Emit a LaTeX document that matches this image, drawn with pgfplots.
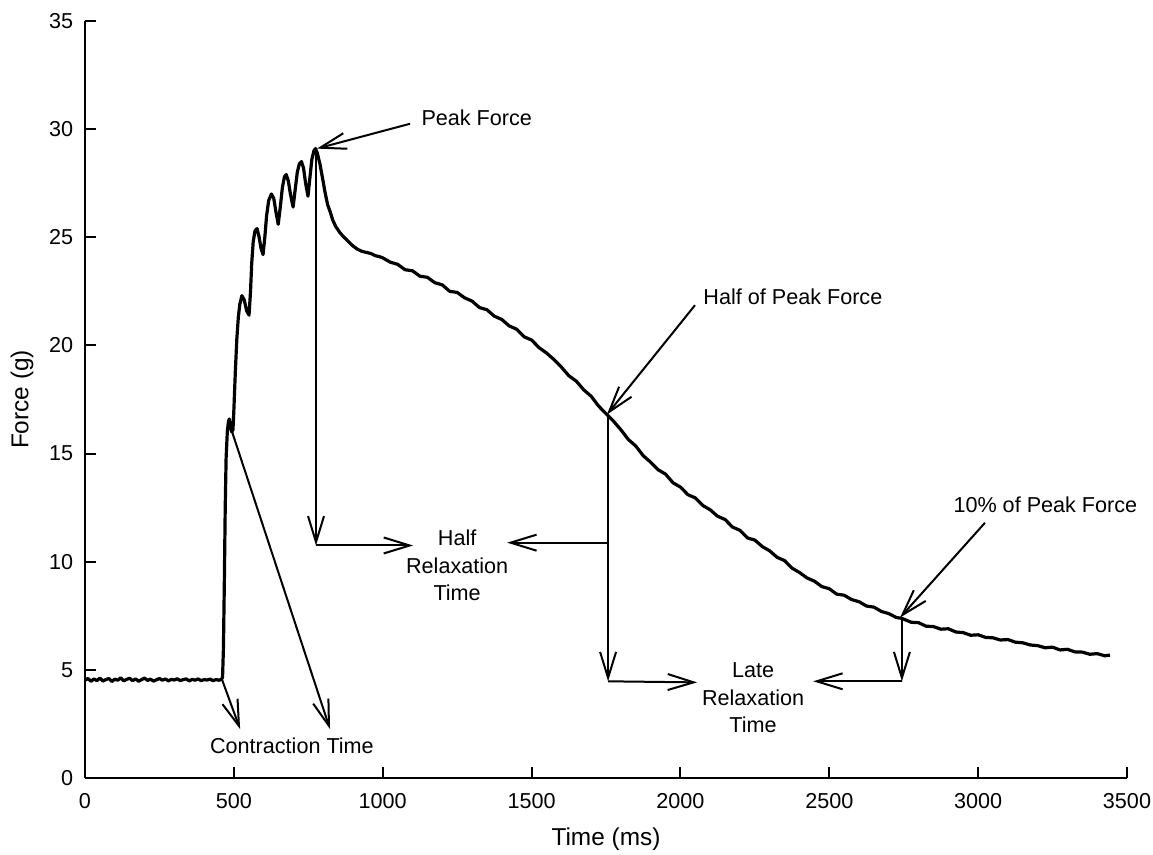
\documentclass[border=0pt]{standalone}
\usepackage{fontspec}
\setmainfont{Liberation Sans}
\usepackage{pgfplots}
\pgfplotsset{compat=1.18}
\usetikzlibrary{arrows.meta}
\tikzset{
  arr/.style={line width=1pt, -{Straight Barb[length=13pt,width=8pt,line width=1pt]}},
  lab/.style={font=\fontsize{10.8}{13.75}\selectfont, inner sep=0pt},
}
\begin{document}
\begin{tikzpicture}
\useasboundingbox (-42.5pt,-38.5pt) rectangle (534pt,389pt);
\begin{axis}[
  scale only axis,
  width=521pt, height=378.5pt,
  xmin=0, xmax=3500, ymin=0, ymax=35,
  axis x line*=bottom, axis y line*=left,
  axis line style={-, line width=1pt},
  xtick={0,500,...,3500}, ytick={0,5,...,35},
  tick align=inside,
  major tick length=5.5pt,
  tick style={line width=1pt, black},
  /pgf/number format/assume math mode=true,
  /pgf/number format/1000 sep={},
  ticklabel style={font=\fontsize{10.8}{13}\selectfont},
  xticklabel style={yshift=-4.4pt},
  yticklabel style={xshift=-2.4pt},
  xlabel={Time (ms)}, ylabel={Force (g)},
  label style={font=\fontsize{12.2}{14}\selectfont},
  xlabel style={at={(axis description cs:0.5,-0.0804)}, anchor=center},
  ylabel style={at={(axis description cs:-0.0605,0.5)}, anchor=center},
  clip=false,
]
\addplot[black, line width=1.6pt, line join=round] coordinates {
(0,4.52) (10,4.60) (20,4.47) (30,4.58) (40,4.50) (50,4.62) (60,4.48) (70,4.55) (80,4.60) (90,4.46)
(100,4.57) (110,4.52) (120,4.63) (130,4.49) (140,4.56) (150,4.61) (160,4.50) (170,4.58) (180,4.47) (190,4.55)
(200,4.62) (210,4.51) (220,4.57) (230,4.48) (240,4.54) (250,4.60) (260,4.52) (270,4.58) (280,4.49) (290,4.56)
(300,4.53) (310,4.59) (320,4.50) (330,4.55) (340,4.58) (350,4.49) (360,4.56) (370,4.52) (380,4.58) (390,4.50)
(400,4.55) (410,4.53) (420,4.57) (430,4.50) (440,4.55) (450,4.52) (458,4.56) (462,4.65)
(465,6.0) (468,9.0) (471,12.5) (474,14.8) (478,16.0) (482,16.5) (485,16.6) (489,16.2) (493,16.0) (497,16.1)
(500,17.0) (505,18.8) (510,20.3) (515,21.3) (520,21.9) (527,22.3) (535,22.1) (543,21.6) (551,21.4)
(556,22.5) (560,23.8) (565,24.8) (571,25.3) (578,25.4) (585,25.0) (591,24.5) (598,24.2)
(604,25.0) (610,26.0) (617,26.7) (626,27.0) (634,26.8) (641,26.2) (649,25.6)
(656,26.4) (663,27.3) (670,27.8) (676,27.9) (683,27.6) (690,27.0) (699,26.4)
(706,27.2) (713,28.0) (720,28.4) (727,28.5) (734,28.2) (741,27.5) (749,26.9)
(755,27.7) (762,28.6) (769,29.0) (774,29.1) (780,28.9) (789,28.4) (797,27.8) (806,27.1) (815,26.5)
(823,26.2) (832,25.8) (842,25.5) (857,25.2) (870,25.0) (885,24.8) (900,24.6) (915,24.45) (930,24.35)
(945,24.3) (960,24.25) (975,24.15) (990,24.1)
(1000,24.05) (1025,23.85) (1050,23.75) (1075,23.5) (1100,23.45) (1125,23.2) (1150,23.15) (1175,22.9)
(1200,22.8) (1225,22.5) (1250,22.45) (1275,22.2) (1300,22.05) (1325,21.75) (1350,21.65) (1375,21.35)
(1400,21.2) (1425,20.9) (1450,20.75) (1475,20.4) (1500,20.25) (1525,19.9) (1550,19.65) (1575,19.35)
(1600,19.0) (1625,18.6) (1650,18.35) (1675,17.95) (1700,17.65) (1725,17.2) (1753,16.8) (1775,16.5)
(1800,16.1) (1825,15.65) (1850,15.35) (1875,14.9) (1900,14.6) (1925,14.25) (1950,14.05) (1975,13.65)
(2000,13.45) (2025,13.1) (2050,12.95) (2075,12.6) (2100,12.4) (2125,12.1) (2150,11.95) (2175,11.6)
(2200,11.45) (2225,11.1) (2250,11.0) (2275,10.7) (2300,10.5) (2325,10.2) (2350,10.05) (2375,9.7)
(2400,9.5) (2425,9.25) (2450,9.1) (2475,8.85) (2500,8.75) (2525,8.5) (2550,8.45) (2575,8.25)
(2600,8.15) (2625,7.95) (2650,7.9) (2675,7.7) (2700,7.6) (2725,7.42) (2744,7.38) (2775,7.2)
(2800,7.18) (2825,7.02) (2850,7.0) (2875,6.88) (2900,6.9) (2925,6.75) (2950,6.72) (2975,6.6)
(3000,6.62) (3025,6.5) (3050,6.48) (3075,6.38) (3100,6.4) (3125,6.28) (3150,6.25) (3175,6.15)
(3200,6.12) (3225,6.02) (3250,6.05) (3275,5.92) (3300,5.95) (3325,5.83) (3350,5.82) (3375,5.72)
(3400,5.75) (3425,5.65) (3443,5.68)
};
% Peak force
\draw[arr] (1092,30.25) -- (779,29.1);
\node[lab, anchor=west] at (1129,30.53) {Peak Force};
% Half relaxation
\draw[arr] (776,29.0) -- (776,10.75);
\draw[arr] (776,10.75) -- (1102,10.75);
\draw[arr] (1757,10.88) -- (1418,10.88);
\node[lab, anchor=north, align=center] at (1250,11.48) {Half\\Relaxation\\Time};
% Half of peak force
\draw[arr] (2049,21.86) -- (1753,16.8);
\node[lab, anchor=west] at (2076,22.23) {Half of Peak Force};
\draw[arr] (1757,16.8) -- (1757,4.47);
\draw[arr] (1757,4.47) -- (2056,4.42);
% Late relaxation
\draw[arr] (2744,7.38) -- (2744,4.47);
\draw[arr] (2744,4.47) -- (2446,4.47);
\node[lab, anchor=north, align=center] at (2244,5.35) {Late\\Relaxation\\Time};
% 10% of peak force
\draw[arr] (3023,11.8) -- (2738,7.42);
\node[lab, anchor=west] at (2916,12.63) {10\% of Peak Force};
% Contraction time
\draw[arr] (460,4.56) -- (521,2.26);
\draw[arr] (487,16.3) -- (823,2.26);
\node[lab, anchor=center] at (695,1.47) {Contraction Time};
\end{axis}
\end{tikzpicture}
\end{document}
